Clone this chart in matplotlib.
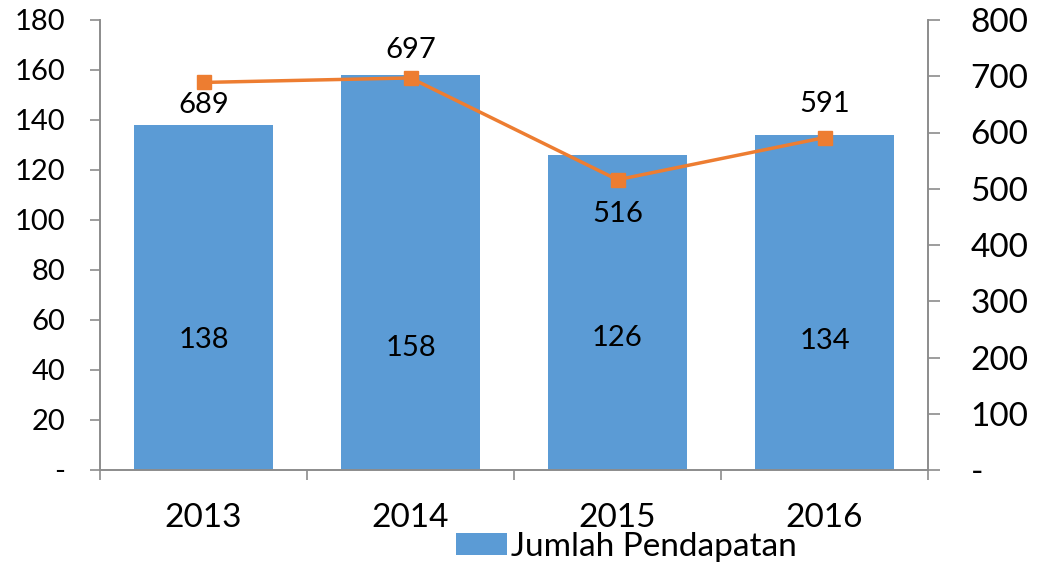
import matplotlib
matplotlib.use("Agg")
import matplotlib.pyplot as plt
from matplotlib.ticker import FuncFormatter, FixedLocator
import numpy as np

years = ["2013", "2014", "2015", "2016"]
jumlah_pendapatan = [138, 158, 126, 134]
line_values = [689, 697, 516, 591]
left_ticks = [0, 20, 40, 60, 80, 100, 120, 140, 160, 180]
right_ticks = [0, 100, 200, 300, 400, 500, 600, 700, 800]

plt.rcParams['font.family'] = ['Lato', 'DejaVu Sans']
BLUE = "#5B9BD5"
ORANGE = "#ED7D31"
GRAY = "#8C8C8C"

fig = plt.figure(figsize=(10.6, 5.66), dpi=100)
ax = fig.add_axes([100/1060, 96/566, 828/1060, 450/566])
ax2 = ax.twinx()

x = np.arange(len(years))
bars = ax.bar(x, jumlah_pendapatan, width=0.667, color=BLUE, zorder=2,
              label="Jumlah Pendapatan")
ax.set_xlim(-0.5, len(years) - 0.5)
ax.set_ylim(0, 180)
ax2.set_ylim(0, 800)

fmt = FuncFormatter(lambda v, p: "-" if v == 0 else f"{int(v)}")
ax.yaxis.set_major_locator(FixedLocator(left_ticks))
ax.yaxis.set_major_formatter(fmt)
ax2.yaxis.set_major_locator(FixedLocator(right_ticks))
ax2.yaxis.set_major_formatter(fmt)

ax.set_xticks(x)
ax.set_xticklabels(years, fontsize=24)
ax.set_xticks(np.arange(-0.5, len(years)), minor=True)
ax.tick_params(axis='x', which='major', length=0, pad=24)
ax.tick_params(axis='x', which='minor', length=7.2, color=GRAY, width=1.2)
ax.tick_params(axis='y', length=7.2, color=GRAY, width=1.2, labelsize=21, pad=18)
ax2.tick_params(axis='y', length=8.6, color=GRAY, width=1.2, labelsize=24, pad=22)

for a in (ax, ax2):
    a.spines['top'].set_visible(False)
    for s in ('left', 'right', 'bottom'):
        a.spines[s].set_color(GRAY)
        a.spines[s].set_linewidth(1.2)

ax2.plot(x, line_values, color=ORANGE, lw=2.5, marker='s', markersize=10, zorder=3)
ax2.set_zorder(ax.get_zorder() + 1)
ax2.patch.set_visible(False)

# bar value labels
bar_label_y = [52, 49, 53, 51.5]
for xi, v, ly in zip(x, jumlah_pendapatan, bar_label_y):
    ax.text(xi, ly, f"{v}", ha='center', va='center', fontsize=21, color='black')

# line value labels
offsets = [-16.5, 20, -25, 24.5]
for xi, v, off in zip(x, line_values, offsets):
    ax2.annotate(f"{v}", (xi, v), xytext=(0, off), textcoords='offset points',
                 ha='center', va='center', fontsize=21, color='black')

fig.legend(handles=[bars], labels=["Jumlah Pendapatan"], loc='center',
           bbox_to_anchor=(626/1060, 19/566), frameon=False, fontsize=24,
           handlelength=1.55, handleheight=0.62, handletextpad=0.1, borderpad=0)

fig.savefig("out.png", dpi=100)
